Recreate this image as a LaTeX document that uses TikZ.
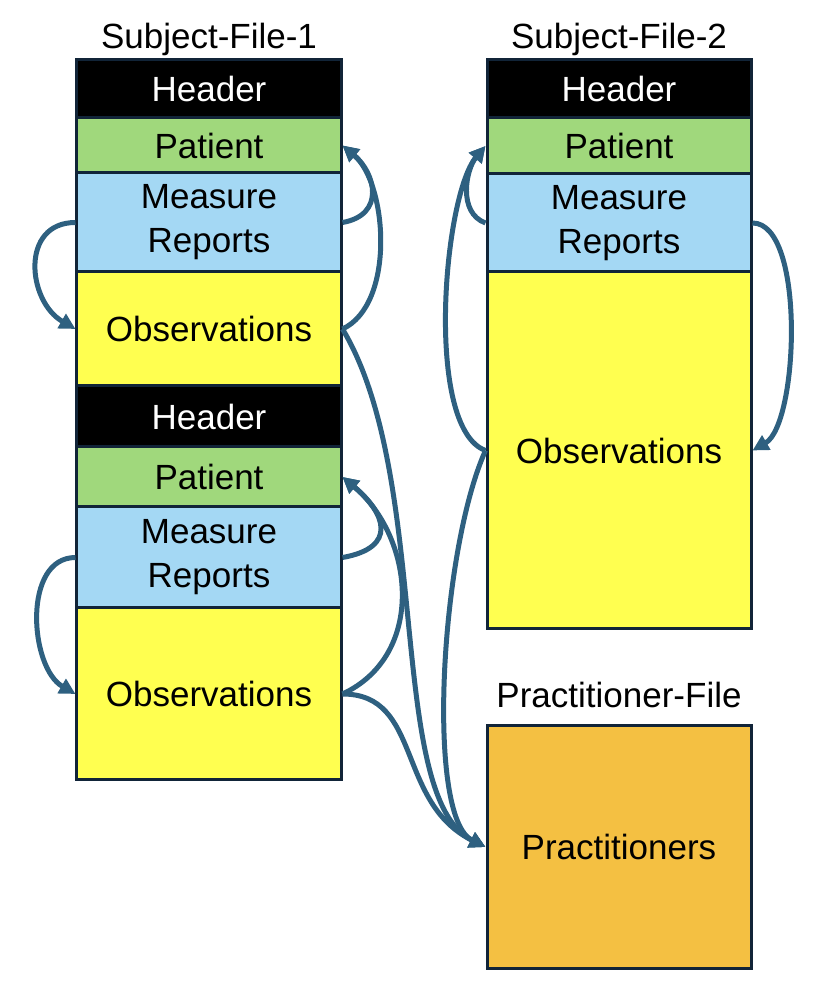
\documentclass[tikz,border=0pt]{standalone}
\usepackage{fontspec}
\setmainfont{Liberation Sans}
\usepackage{tikz}
\usetikzlibrary{arrows}
\usetikzlibrary{arrows.meta}

\definecolor{patgreen}{RGB}{160,216,124}
\definecolor{mrblue}{RGB}{164,216,244}
\definecolor{obsyellow}{RGB}{255,255,80}
\definecolor{pracorange}{RGB}{244,192,66}
\definecolor{edgenavy}{RGB}{17,36,56}
\definecolor{linkblue}{RGB}{46,96,128}

\begin{document}
\begin{tikzpicture}[x=1bp,y=1bp,
	every node/.style={font=\fontsize{35bp}{44bp}\selectfont},
	block/.style={draw=edgenavy, line width=3bp, minimum width=264bp, inner sep=0pt, align=center},
	hdrbox/.style={block, fill=black, text=white},
	patbox/.style={block, fill=patgreen},
	mrbox/.style={block, fill=mrblue},
	obsbox/.style={block, fill=obsyellow},
	pracbox/.style={block, fill=pracorange},
	link/.style={draw=linkblue, line width=5bp, arrows={-Triangle[length=16bp,width=16bp]}}]
			
			\useasboundingbox (0,0) rectangle (816,994);
			
			% titles
			\node[anchor=base] (title1) at (209,945) {Subject-File-1};
			\node[anchor=base] (title2) at (619,945) {Subject-File-2};
			\node[anchor=base] (title3) at (619,286) {Practitioner-File};
			
			% subject file 1, first record
			\node[hdrbox, minimum height=58bp] (hdr1) at (209,905) {Header};
			\node[patbox, minimum height=55bp] (pat1) at (209,848.5) {Patient};
			\node[mrbox, minimum height=99bp] (mr1) at (209,771.5) {Measure\\Reports};
			\node[obsbox, minimum height=114bp] (obs1) at (209,665) {Observations};
			% subject file 1, second record
			\node[hdrbox, minimum height=61bp] (hdr2) at (209,577.5) {Header};
			\node[patbox, minimum height=60bp] (pat2) at (209,517) {Patient};
			\node[mrbox, minimum height=101bp] (mr2) at (209,436.5) {Measure\\Reports};
			\node[obsbox, minimum height=172bp] (obs2) at (209,300) {Observations};
			
			% subject file 2
			\node[hdrbox, minimum height=58bp] (hdr3) at (619,905) {Header};
			\node[patbox, minimum height=56bp] (pat3) at (619,848) {Patient};
			\node[mrbox, minimum height=98bp] (mr3) at (619,771) {Measure\\Reports};
			\node[obsbox, minimum height=357bp] (obs3) at (619,543.5) {Observations};
			
			% practitioner file
			\node[pracbox, minimum height=242bp] (prac) at (619,147) {Practitioners};
			
			% references inside subject file 1
			\draw[link] (mr1.west) to[out=180,in=150,looseness=1.34] (obs1.west);
			\draw[link] (mr1.east) to[out=10,in=-40,looseness=1.45] (pat1.east);
			\draw[link] (obs1.east) to[out=25,in=-40,looseness=0.82] (pat1.east);
			\draw[link] (mr2.west) to[out=180,in=150,looseness=1.0] (obs2.west);
			\draw[link] (mr2.east) to[out=10,in=-40,looseness=1.8] (pat2.east);
			\draw[link] (obs2.east) to[out=25,in=-40,looseness=1.1] (pat2.east);
			
			% references inside subject file 2
			\draw[link] (mr3.west) to[out=160,in=230,looseness=1.0] (pat3.west);
			\draw[link] (obs3.west) to[out=160,in=230,looseness=0.55] (pat3.west);
			\draw[link] (mr3.east) to[out=0,in=30,looseness=0.6] (obs3.east);
			
			% references to practitioners
			\draw[link] (obs1.east) .. controls +(90,-150) and +(-100,50) .. (prac.west);
			\draw[link] (obs2.east) .. controls +(80,0) and +(-90,45) .. (prac.west);
			\draw[link] (obs3.west) .. controls +(-45,-100) and +(-60,30) .. (prac.west);
			
\end{tikzpicture}
\end{document}
